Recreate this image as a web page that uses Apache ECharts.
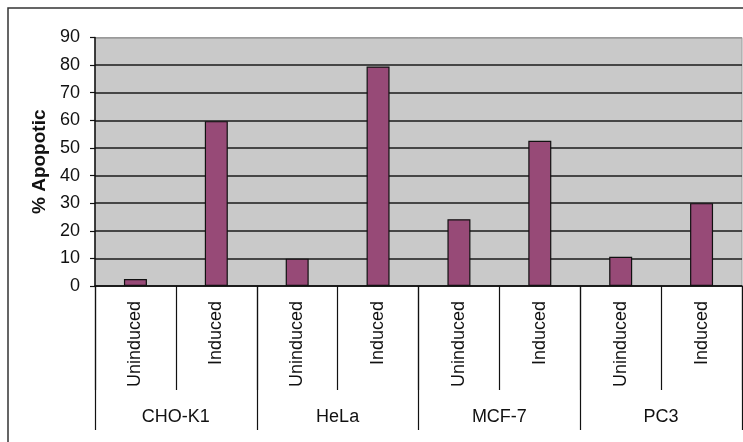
<!DOCTYPE html>
<html>
<head>
<meta charset="utf-8">
<script src="https://cdn.jsdelivr.net/npm/echarts@6/dist/echarts.min.js"></script>
<style>
    html, body { margin: 0; padding: 0; background: #fff; }
    #chart { width: 743px; height: 442px; }
</style>
</head>
<body>
<div id="chart"></div>
<script>
var groups = ['CHO-K1', 'HeLa', 'MCF-7', 'PC3'];
var conditions = ['Uninduced', 'Induced'];
// % apoptotic, in order: group x condition
var values = [2.5, 59.7, 9.9, 79.5, 24.2, 52.6, 10.6, 30.0];
var yTicks = [0, 10, 20, 30, 40, 50, 60, 70, 80, 90];

var font = 'Liberation Sans, Arial, sans-serif';

var categories = [];
groups.forEach(function (g) {
    conditions.forEach(function (c) { categories.push(c); });
});

// grid lines: black, except the top one which is the plot border
var splitColors = yTicks.map(function (t, i) {
    return i === yTicks.length - 1 ? '#9a9a9a' : '#1a1a1a';
});

var myChart = echarts.init(document.getElementById('chart'));
var option = {
    backgroundColor: '#fff',
    animation: false,
    graphic: [{
        type: 'rect',
        shape: { x: 8, y: 8, width: 900, height: 600 },
        style: { fill: 'none', stroke: '#333', lineWidth: 1.5 },
        z: -1
    }],
    grid: {
        left: 95, top: 37.5, right: 1, bottom: 156,
        show: true,
        backgroundColor: '#c9c9c9',
        borderColor: '#9a9a9a',
        borderWidth: 1
    },
    xAxis: [
        {
            type: 'category',
            data: categories,
            position: 'bottom',
            axisLine: { show: true, lineStyle: { color: '#111', width: 1.5 } },
            axisTick: { show: true, interval: 0, length: 104, lineStyle: { color: '#111', width: 1.2 } },
            axisLabel: {
                rotate: 90, margin: 15, interval: 0,
                color: '#111', fontSize: 18, fontFamily: font
            }
        },
        {
            type: 'category',
            data: groups,
            position: 'bottom',
            axisLine: { show: false },
            axisTick: { show: true, interval: 0, length: 144, lineStyle: { color: '#111', width: 1.2 } },
            axisLabel: {
                margin: 122, interval: 0,
                color: '#111', fontSize: 18, fontFamily: font
            }
        }
    ],
    yAxis: {
        type: 'value',
        min: 0, max: 90, interval: 10,
        name: '% Apopotic',
        nameLocation: 'middle',
        nameGap: 45,
        nameTextStyle: { fontSize: 19, fontWeight: 'bold', color: '#111', fontFamily: font },
        axisLine: { show: true, lineStyle: { color: '#111', width: 1.5 } },
        axisTick: { show: true, length: 5, lineStyle: { color: '#111', width: 1.2 } },
        axisLabel: { margin: 15, color: '#111', fontSize: 18, fontFamily: font },
        splitLine: { show: true, lineStyle: { color: splitColors, width: 1.5 } }
    },
    series: [{
        type: 'bar',
        xAxisIndex: 0,
        data: values,
        barWidth: 23,
        itemStyle: { color: '#974a77', borderColor: '#111', borderWidth: 1.2 }
    }]
};
option && myChart.setOption(option);
</script>
</body>
</html>
